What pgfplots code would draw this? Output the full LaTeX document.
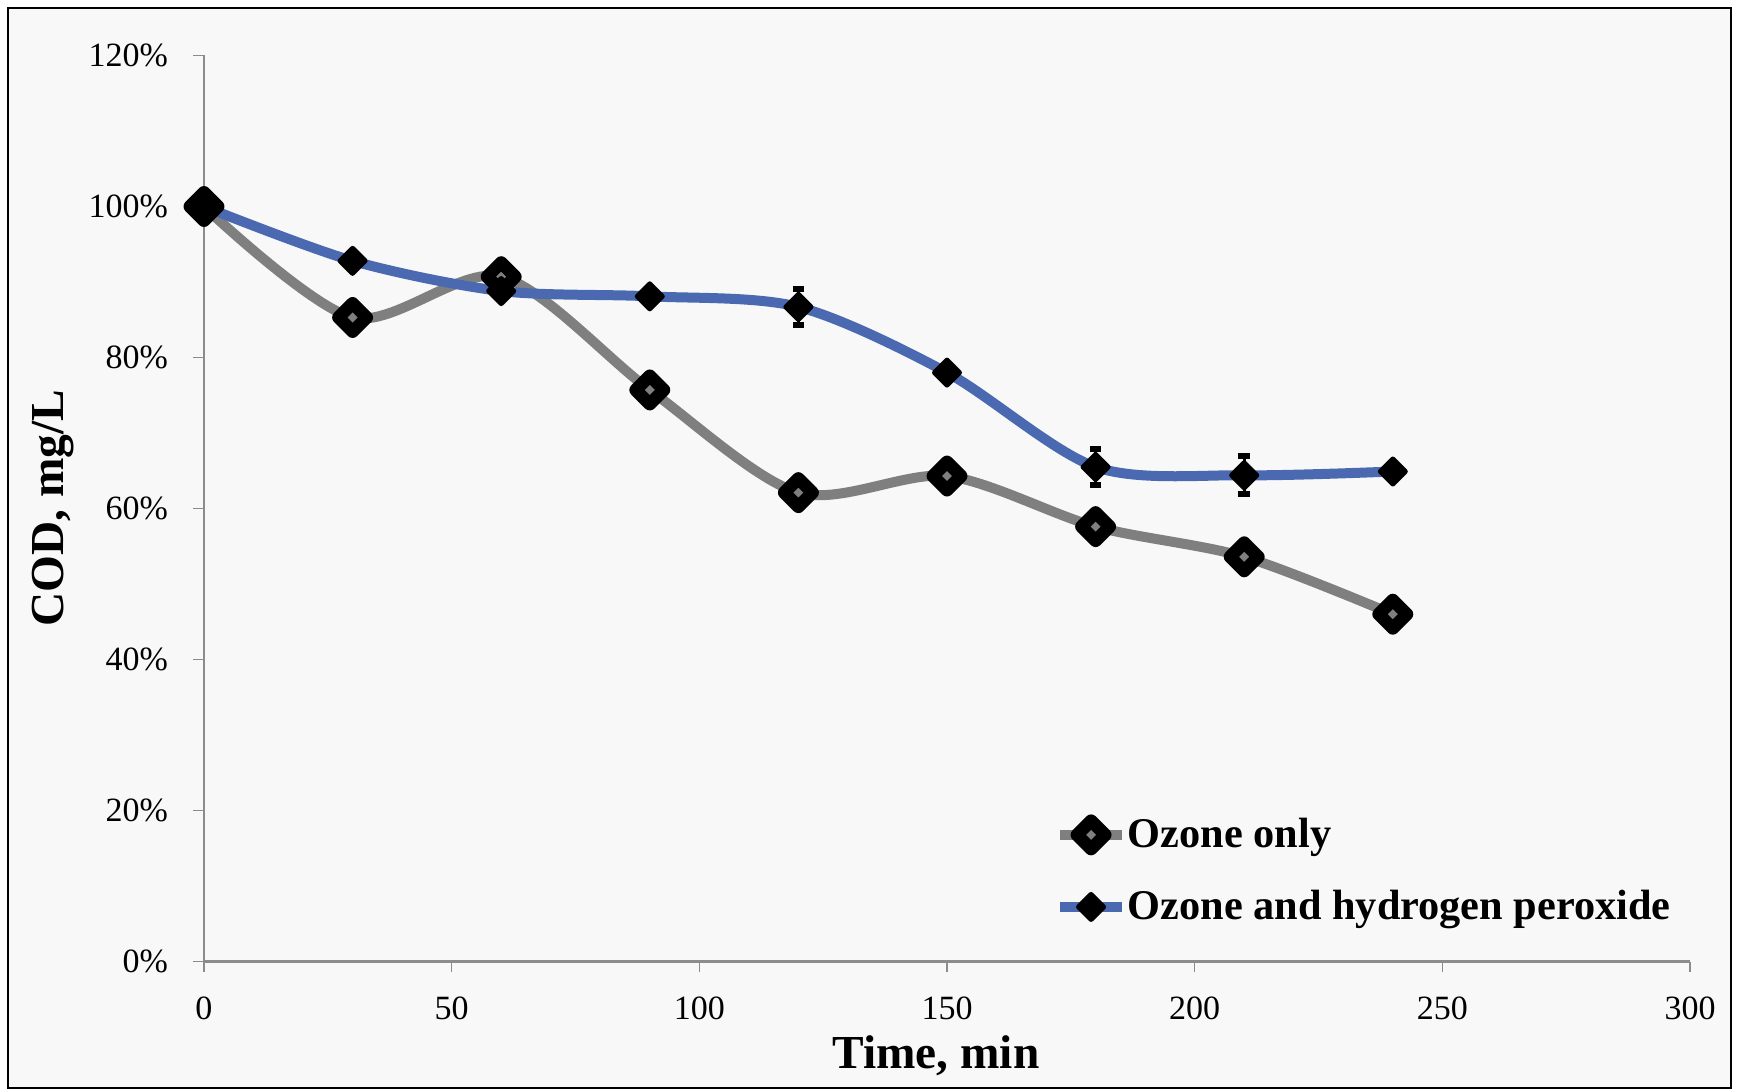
\documentclass[border=0pt]{standalone}
\usepackage{pgfplots}
\pgfplotsset{compat=1.18}
\usepackage{fontspec}
\setmainfont{Liberation Serif}
\definecolor{grayline}{HTML}{7F7F7F}
\definecolor{blueline}{HTML}{4B69B0}
\definecolor{axisgray}{HTML}{8C8C8C}
\definecolor{bgfill}{HTML}{F8F8F8}
\begin{document}
\begin{tikzpicture}
\useasboundingbox (0,0) rectangle (522.3pt,327pt);
\fill[white] (0,0) rectangle (522.3pt,327pt);
\filldraw[fill=bgfill, draw=black, line width=0.7pt] (2.4pt,0.6pt) rectangle (519.3pt,324.6pt);
\begin{axis}[
  at={(61.2pt,38.55pt)}, anchor=south west,
  scale only axis, width=445.8pt, height=271.8pt,
  xmin=0, xmax=300, ymin=0, ymax=120,
  xtick={0,50,...,300}, ytick={0,20,...,120},
  axis lines*=left,
  axis line style={-, axisgray},
  x axis line style={line width=0.8pt},
  y axis line style={line width=0.4pt},
  tick align=outside,
  major tick length=3.2pt,
  tick style={axisgray, line width=0.4pt},
  clip=false,
  /pgf/number format/assume math mode=true,
  ticklabel style={font=\fontsize{10.2}{12}\selectfont},
  yticklabel={\pgfmathprintnumber{\tick}\%},
  yticklabel style={inner sep=0pt, anchor=east, xshift=-7.4pt},
  xticklabel style={inner sep=0pt, anchor=north, yshift=-7.3pt},
  xlabel={Time, min},
  ylabel={COD, mg/L},
  xlabel style={at={(axis description cs:0.4926,0)}, anchor=base, yshift=-32pt, inner sep=0pt, font=\bfseries\fontsize{14.2}{17}\selectfont},
  ylabel style={at={(axis description cs:-0.1016,0.5)}, anchor=center, inner sep=0pt, font=\bfseries\fontsize{14.2}{17}\selectfont},
  legend style={draw=none, fill=none, at={(0.5725,0.1)}, anchor=west, font=\bfseries\fontsize{12.7}{15}\selectfont, row sep=10.7pt, inner sep=0pt, nodes={inner sep=0.3pt}},
  legend cell align=left,
  legend image code/.code={\draw[mark repeat=2, mark phase=2, #1] plot coordinates {(0pt,0pt) (9.2pt,0pt) (18.4pt,0pt)};},
]
\addplot[grayline, line width=3pt, smooth, mark=square*,
  mark options={rotate=45, fill=grayline, draw=black, line width=3.8pt, line join=round, mark size=3pt}]
  coordinates {(0,100) (30,85.3) (60,90.7) (90,75.7) (120,62.1) (150,64.3) (180,57.6) (210,53.6) (240,46.0)};
\addlegendentry{Ozone only}
\addplot[blueline, line width=3pt, smooth, mark=square*,
  mark options={rotate=45, fill=black, draw=black, line width=1.5pt, line join=round, mark size=2.65pt},
  error bars/.cd, y dir=both, y explicit,
  error bar style={black, line width=1pt, solid},
  error mark options={black, line width=1.8pt, mark size=1.75pt, rotate=90}]
  coordinates {(0,100) +- (0,0) (30,92.8) +- (0,0) (60,88.8) +- (0,0) (90,88.1) +- (0,0) (120,86.7) +- (0,2.35) (150,78.0) +- (0,0) (180,65.5) +- (0,2.4) (210,64.4) +- (0,2.5) (240,64.9) +- (0,0)};
\addlegendentry{Ozone and hydrogen peroxide}
\end{axis}
\end{tikzpicture}
\end{document}
